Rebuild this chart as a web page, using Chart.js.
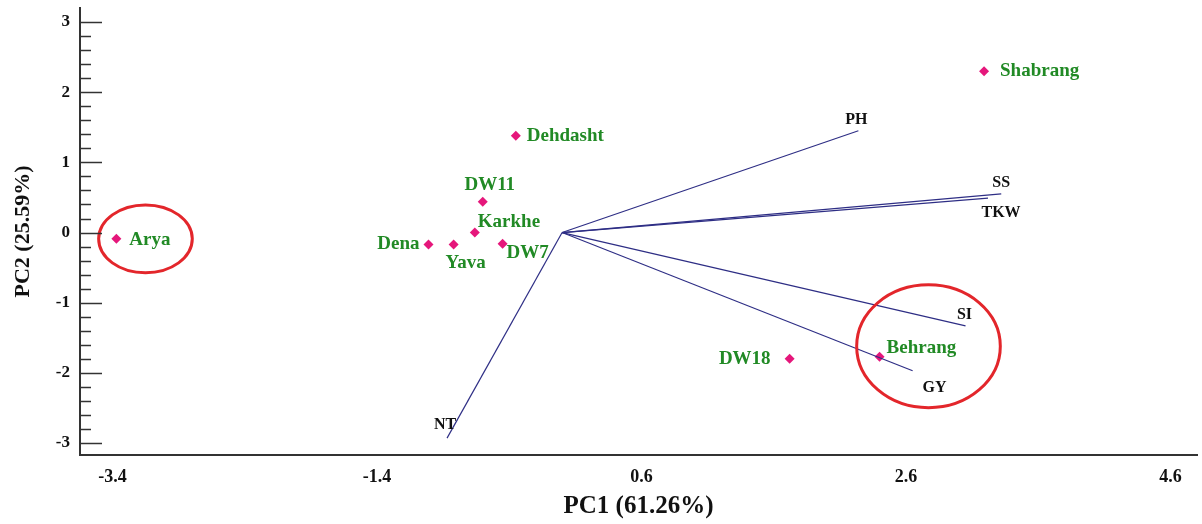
<!DOCTYPE html>
<html>
<head>
<meta charset="utf-8">
<script src="https://cdn.jsdelivr.net/npm/chart.js@4.4.1/dist/chart.umd.min.js"></script>
<style>
  html, body { margin: 0; padding: 0; background: #ffffff; }
  #box { width: 1202px; height: 524px; }
</style>
</head>
<body>
<div id="box"><canvas id="biplot"></canvas></div>
<script>
// genotypes (PC1, PC2 scores)
const genotypes = ['Arya', 'Dena', 'Yava', 'Karkhe', 'DW7', 'DW11', 'Dehdasht', 'Shabrang', 'DW18', 'Behrang'];
const genoPC1 = [-3.37, -1.01, -0.82, -0.66, -0.45, -0.60, -0.35, 3.19, 1.72, 2.40];
const genoPC2 = [-0.09, -0.17, -0.17, 0.00, -0.16, 0.44, 1.38, 2.30, -1.80, -1.77];

// trait vectors (end points, all start at origin)
const traits = ['PH', 'SS', 'TKW', 'SI', 'GY', 'NT'];
const traitPC1 = [2.24, 3.32, 3.22, 3.05, 2.65, -0.87];
const traitPC2 = [1.45, 0.55, 0.49, -1.33, -1.97, -2.93];

// axis ticks
const xTicks = [-3.4, -1.4, 0.6, 2.6, 4.6];
const yTicks = [-3, -2, -1, 0, 1, 2, 3];

// red circles drawn around groups (centre x, centre y, radius x, radius y in axis units)
const circleCX = [-3.15, 2.77];
const circleCY = [-0.09, -1.62];
const circleRX = [0.354, 0.543];
const circleRY = [0.484, 0.876];

const serif = '"Liberation Serif", "Times New Roman", serif';
const green = '#218a25';

// donde va cada etiqueta respecto a su punto (pixeles)
const genoLabelPos = {
    'Arya':     { dx: 13, dy: 1, align: 'left' },
    'Dena':     { dx: -9, dy: 0, align: 'right' },
    'Yava':     { dx: 12, dy: 19, align: 'center' },
    'Karkhe':   { dx: 3, dy: -10, align: 'left' },
    'DW7':      { dx: 4, dy: 9, align: 'left' },
    'DW11':     { dx: 7, dy: -17, align: 'center' },
    'Dehdasht': { dx: 11, dy: 0, align: 'left' },
    'Shabrang': { dx: 16, dy: 0, align: 'left' },
    'DW18':     { dx: -19, dy: 0, align: 'right' },
    'Behrang':  { dx: 7, dy: -9, align: 'left' }
};
const traitLabelPos = {
    'PH':  { dx: -2, dy: -11 },
    'SS':  { dx: 0, dy: -11 },
    'TKW': { dx: 13, dy: 15 },
    'SI':  { dx: -1, dy: -11 },
    'GY':  { dx: 22, dy: 17 },
    'NT':  { dx: -2, dy: -13 }
};

// one dataset per vector
const vectorSets = traits.map((t, i) => ({
    label: t,
    data: [{ x: 0, y: 0 }, { x: traitPC1[i], y: traitPC2[i] }],
    showLine: true,
    borderColor: '#2e2e85',
    borderWidth: 1.2,
    pointRadius: 0,
    fill: false
}));

const genoSet = {
    label: 'genotypes',
    data: genotypes.map((g, i) => ({ x: genoPC1[i], y: genoPC2[i] })),
    pointStyle: 'rectRot',
    pointRadius: 5,
    pointBackgroundColor: '#e5177b',
    pointBorderColor: '#e5177b',
    pointBorderWidth: 0,
    showLine: false
};

// ticks hacia adentro en el eje y (mayores y menores)
const innerTicks = {
    id: 'innerTicks',
    afterDraw(chart) {
        const ctx = chart.ctx;
        const y = chart.scales.y;
        const left = chart.chartArea.left;
        ctx.save();
        ctx.strokeStyle = '#333';
        ctx.lineWidth = 1.5;
        for (let k = -15; k <= 15; k++) {
            const py = Math.round(y.getPixelForValue(k / 5)) + 0.5;
            const len = (k % 5 === 0) ? 22 : 11;
            ctx.beginPath();
            ctx.moveTo(left, py);
            ctx.lineTo(left + len, py);
            ctx.stroke();
        }
        ctx.restore();
    }
};

// etiquetas de genotipos, variables y los circulos rojos
const labelsPlugin = {
    id: 'labelsPlugin',
    afterDatasetsDraw(chart) {
        const ctx = chart.ctx;
        const xs = chart.scales.x;
        const ys = chart.scales.y;
        ctx.save();
        ctx.textBaseline = 'middle';

        ctx.font = 'bold 19px ' + serif;
        ctx.fillStyle = green;
        genotypes.forEach((g, i) => {
            const p = genoLabelPos[g];
            ctx.textAlign = p.align;
            ctx.fillText(g, xs.getPixelForValue(genoPC1[i]) + p.dx, ys.getPixelForValue(genoPC2[i]) + p.dy);
        });

        ctx.font = 'bold 16px ' + serif;
        ctx.fillStyle = '#111';
        ctx.textAlign = 'center';
        traits.forEach((t, i) => {
            const p = traitLabelPos[t];
            ctx.fillText(t, xs.getPixelForValue(traitPC1[i]) + p.dx, ys.getPixelForValue(traitPC2[i]) + p.dy);
        });

        ctx.strokeStyle = '#e3262b';
        ctx.lineWidth = 3;
        for (let i = 0; i < circleCX.length; i++) {
            const cx = xs.getPixelForValue(circleCX[i]);
            const cy = ys.getPixelForValue(circleCY[i]);
            const rx = Math.abs(xs.getPixelForValue(circleCX[i] + circleRX[i]) - cx);
            const ry = Math.abs(ys.getPixelForValue(circleCY[i] + circleRY[i]) - cy);
            ctx.beginPath();
            ctx.ellipse(cx, cy, rx, ry, 0, 0, Math.PI * 2);
            ctx.stroke();
        }
        ctx.restore();
    }
};

const ctx = document.getElementById('biplot').getContext('2d');
const myChart = new Chart(ctx, {
    type: 'scatter',
    data: { datasets: [...vectorSets, genoSet] },
    options: {
        responsive: true,
        maintainAspectRatio: false,
        animation: false,
        layout: { padding: { top: 8, right: 2, left: 0, bottom: 0 } },
        plugins: {
            legend: { display: false },
            tooltip: { enabled: false }
        },
        scales: {
            x: {
                type: 'linear',
                min: -3.645,
                max: 4.80,
                afterBuildTicks: (scale) => { scale.ticks = xTicks.map(v => ({ value: v })); },
                afterFit: (scale) => {
                    scale.height = 69;
                    scale.paddingLeft = 0;
                    scale.paddingRight = 0;
                },
                grid: { display: false, drawTicks: false },
                border: { display: true, color: '#333', width: 2 },
                ticks: {
                    color: '#111',
                    padding: 12,
                    maxRotation: 0,
                    autoSkip: false,
                    font: { family: serif, size: 18, weight: 'bold' },
                    callback: (v) => v.toFixed(1)
                },
                title: {
                    display: true,
                    text: 'PC1 (61.26%)',
                    color: '#111',
                    padding: { top: 0, bottom: 2 },
                    font: { family: serif, size: 25, weight: 'bold' }
                }
            },
            y: {
                type: 'linear',
                min: -3.17,
                max: 3.2,
                afterBuildTicks: (scale) => { scale.ticks = yTicks.map(v => ({ value: v })); },
                afterFit: (scale) => {
                    scale.width = 80;
                    scale.paddingTop = 0;
                    scale.paddingBottom = 0;
                },
                grid: { display: false, drawTicks: false },
                border: { display: true, color: '#333', width: 2 },
                ticks: {
                    color: '#111',
                    padding: 10,
                    autoSkip: false,
                    font: { family: serif, size: 17, weight: 'bold' },
                    callback: (v) => String(v)
                },
                title: {
                    display: true,
                    text: 'PC2 (25.59%)',
                    color: '#111',
                    padding: { top: 10, bottom: 0 },
                    font: { family: serif, size: 22, weight: 'bold' }
                }
            }
        }
    },
    plugins: [innerTicks, labelsPlugin]
});
</script>
</body>
</html>
